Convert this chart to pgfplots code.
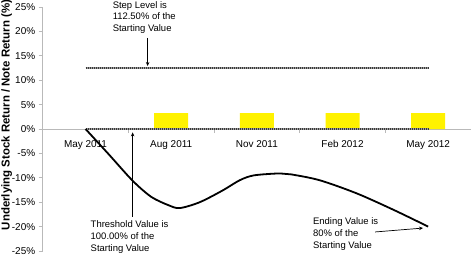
\documentclass[border=0pt]{standalone}
\usepackage{fontspec}
\setmainfont{Liberation Sans}
\usepackage{pgfplots}
\pgfplotsset{compat=1.18}
\usetikzlibrary{arrows.meta}
\begin{document}
\begin{tikzpicture}
\begin{axis}[
  name=ax, scale only axis, width=428.3bp, height=244bp,
  xmin=-1.5, xmax=13.5, ymin=-25, ymax=25,
  axis x line=middle, axis y line=left,
  axis line style={gray!55, line width=0.8bp, -},
  tick align=outside,
  major tick length=4bp,
  tick style={gray!55, line width=0.8bp},
  xtick={1.5,4.5,7.5,10.5,13.5},
  xticklabels={},
  extra x ticks={0,3,6,9,12},
  extra x tick labels={May 2011, Aug 2011, Nov 2011, Feb 2012, May 2012},
  extra x tick style={major tick length=0pt, tick label style={yshift=-8bp}},
  ytick={-25,-20,...,25},
  yticklabel={\pgfmathprintnumber{\tick}\%},
  /pgf/number format/assume math mode=true,
  ticklabel style={font=\fontsize{10}{12}\selectfont, text=black},
  clip=false,
]
\addplot[ybar, bar width=34bp, fill=yellow, draw=none] coordinates {(3,3.25) (6,3.25) (9,3.25) (12,3.25)};
\addplot[gray!75, line width=2bp] coordinates {(0,12.5) (12,12.5)};
\addplot[gray!45!black, line width=2bp, dash pattern=on 1bp off 1bp] coordinates {(0,12.5) (12,12.5)};
\addplot[gray!75, line width=2bp] coordinates {(0,0) (12,0)};
\addplot[gray!45!black, line width=2bp, dash pattern=on 1bp off 1bp] coordinates {(0,0) (12,0)};
\addplot[black, line width=1.8bp, smooth, tension=0.5] coordinates {
(0,0) (0.8,-5.1) (1.65,-10.6) (2.3,-13.9) (2.9,-15.6) (3.3,-16.2) (4.0,-15.0) (4.8,-12.6) (5.4,-10.5) (5.9,-9.5) (6.8,-9.1) (7.2,-9.3) (8.2,-10.5) (9.5,-13.2) (10.8,-16.6) (12,-20)};
\draw[black, line width=0.7bp, -{Stealth[length=4bp,width=3.5bp]}] (axis cs:2.175,18.65) -- (axis cs:2.175,12.9);
\draw[black, line width=0.7bp, -{Stealth[length=4bp,width=3.5bp]}] (axis cs:1.65,-18.0) -- (axis cs:1.65,-0.7);
\draw[black, line width=0.7bp, -{Stealth[length=4bp,width=3.5bp]}] (axis cs:10.14,-21.1) -- (axis cs:11.82,-20.3);
\node[anchor=base west, align=left, inner sep=0pt, font=\fontsize{9.5}{11.3}\selectfont] at (axis cs:0.947,20.06) {Step Level is\\112.50\% of the\\Starting Value};
\node[anchor=base west, align=left, inner sep=0pt, font=\fontsize{9.5}{12}\selectfont] at (axis cs:0.175,-25.14) {Threshold Value is\\100.00\% of the\\Starting Value};
\node[anchor=base west, align=left, inner sep=0pt, font=\fontsize{9.5}{12}\selectfont] at (axis cs:7.965,-24.39) {Ending Value is\\80\% of the\\Starting Value};
\node[rotate=90, font=\bfseries\fontsize{11.5}{13}\selectfont] at ([xshift=-36bp,yshift=14bp]rel axis cs:0,0.5) {Underlying Stock Return / Note Return (\%)};
\end{axis}
\pgfresetboundingbox
\path ([xshift=-42.7bp,yshift=-4bp]ax.south west) rectangle ([yshift=7bp]ax.north east);
\end{tikzpicture}
\end{document}
